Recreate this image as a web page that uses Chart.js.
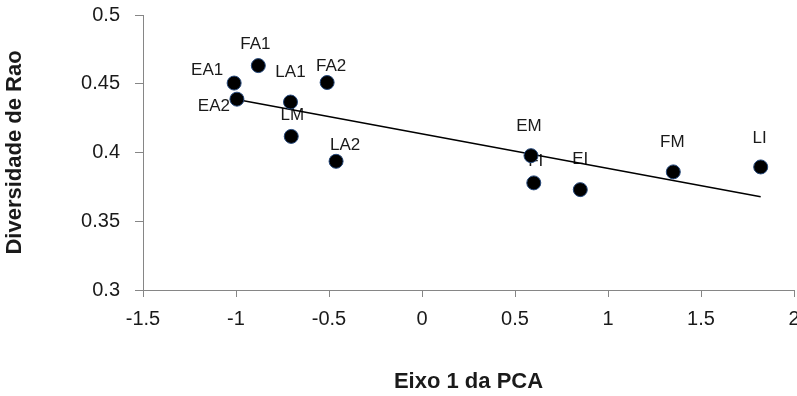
<!DOCTYPE html>
<html lang="pt">
  <head>
    <meta charset="UTF-8" />
    <title>Diversidade de Rao x Eixo 1 da PCA</title>
    <script src="https://cdn.jsdelivr.net/npm/chart.js@4"></script>
    <style>
      html, body { margin: 0; padding: 0; background: #fff; }
      #wrap { width: 797px; height: 396px; }
    </style>
  </head>
  <body>
    <div id="wrap"><canvas id="myChart" width="797" height="396"></canvas></div>
    <script>
      // sites
      const pointNames = ["EA1", "FA1", "EA2", "LA1", "FA2", "LM", "LA2", "EM", "FI", "EI", "FM", "LI"];
      const pcaAxis1 = [-1.01, -0.88, -0.995, -0.707, -0.51, -0.703, -0.462, 0.586, 0.601, 0.851, 1.351, 1.821];
      const raoDiversity = [0.4505, 0.4632, 0.4388, 0.4367, 0.4509, 0.4117, 0.3936, 0.3977, 0.3779, 0.373, 0.3859, 0.3895];

      // linear trend line (ends)
      const trendX = [-1.01, 1.821];
      const trendY = [0.4389, 0.3678];

      // label nudges in px, [dx, dy] from the point
      const labelOffsets = [
        [-27, -13], [-3, -21], [-23, 7], [0, -30], [4, -16], [1, -21],
        [9, -16], [-2, -29], [2, -22], [0, -30], [-1, -30], [-1, -29]
      ];

      const axisGray = "#868686";
      const textColor = "#1a1a1a";
      const fontFamily = "'Liberation Sans', Arial, sans-serif";

      // excel style numbers: 0.5, 2, -1
      const plainNumber = (v) => String(Number(v.toFixed(2)));

      const pointLabels = {
        id: "pointLabels",
        beforeDatasetsDraw(chart) {
          const ctx = chart.ctx;
          const meta = chart.getDatasetMeta(0);
          ctx.save();
          ctx.font = "17px " + fontFamily;
          ctx.fillStyle = textColor;
          ctx.textAlign = "center";
          ctx.textBaseline = "middle";
          meta.data.forEach((pt, i) => {
            const off = labelOffsets[i];
            ctx.fillText(pointNames[i], pt.x + off[0], pt.y + off[1]);
          });
          ctx.restore();
        }
      };

      const ctx = document.getElementById("myChart").getContext("2d");
      const chart = new Chart(ctx, {
        type: "scatter",
        data: {
          datasets: [
            {
              label: "Diversidade de Rao",
              data: pcaAxis1.map((x, i) => ({ x: x, y: raoDiversity[i] })),
              backgroundColor: "#000",
              borderColor: "#24477a",
              borderWidth: 1,
              pointRadius: 7,
              pointHoverRadius: 7
            },
            {
              type: "line",
              label: "Linear",
              data: trendX.map((x, i) => ({ x: x, y: trendY[i] })),
              borderColor: "#000",
              borderWidth: 1.5,
              pointRadius: 0,
              fill: false
            }
          ]
        },
        plugins: [pointLabels],
        options: {
          responsive: false,
          animation: false,
          layout: { autoPadding: false, padding: { top: 15, right: 3, left: 0, bottom: 0 } },
          plugins: {
            legend: { display: false },
            tooltip: { enabled: false }
          },
          scales: {
            x: {
              type: "linear",
              min: -1.5,
              max: 2,
              ticks: {
                stepSize: 0.5,
                color: textColor,
                padding: 10,
                callback: plainNumber,
                font: { family: fontFamily, size: 20 }
              },
              grid: { drawOnChartArea: false, drawTicks: true, tickLength: 7, color: axisGray },
              border: { display: true, color: axisGray, width: 1 },
              title: {
                display: true,
                text: "Eixo 1 da PCA",
                color: textColor,
                padding: { top: 0, bottom: 1 },
                font: { family: fontFamily, size: 22, weight: "bold" }
              },
              afterFit(scale) {
                scale.height = 106;
                scale.paddingLeft = 0;
                scale.paddingRight = 0;
              }
            },
            y: {
              type: "linear",
              min: 0.3,
              max: 0.5,
              ticks: {
                stepSize: 0.05,
                color: textColor,
                padding: 15,
                callback: plainNumber,
                font: { family: fontFamily, size: 20 }
              },
              grid: { drawOnChartArea: false, drawTicks: true, tickLength: 8, color: axisGray },
              border: { display: true, color: axisGray, width: 1 },
              title: {
                display: true,
                text: "Diversidade de Rao",
                color: textColor,
                padding: { top: 2, bottom: 0 },
                font: { family: fontFamily, size: 22, weight: "bold" }
              },
              afterFit(scale) {
                scale.width = 143;
                scale.paddingTop = 0;
                scale.paddingBottom = 0;
              }
            }
          }
        }
      });
    </script>
  </body>
</html>
